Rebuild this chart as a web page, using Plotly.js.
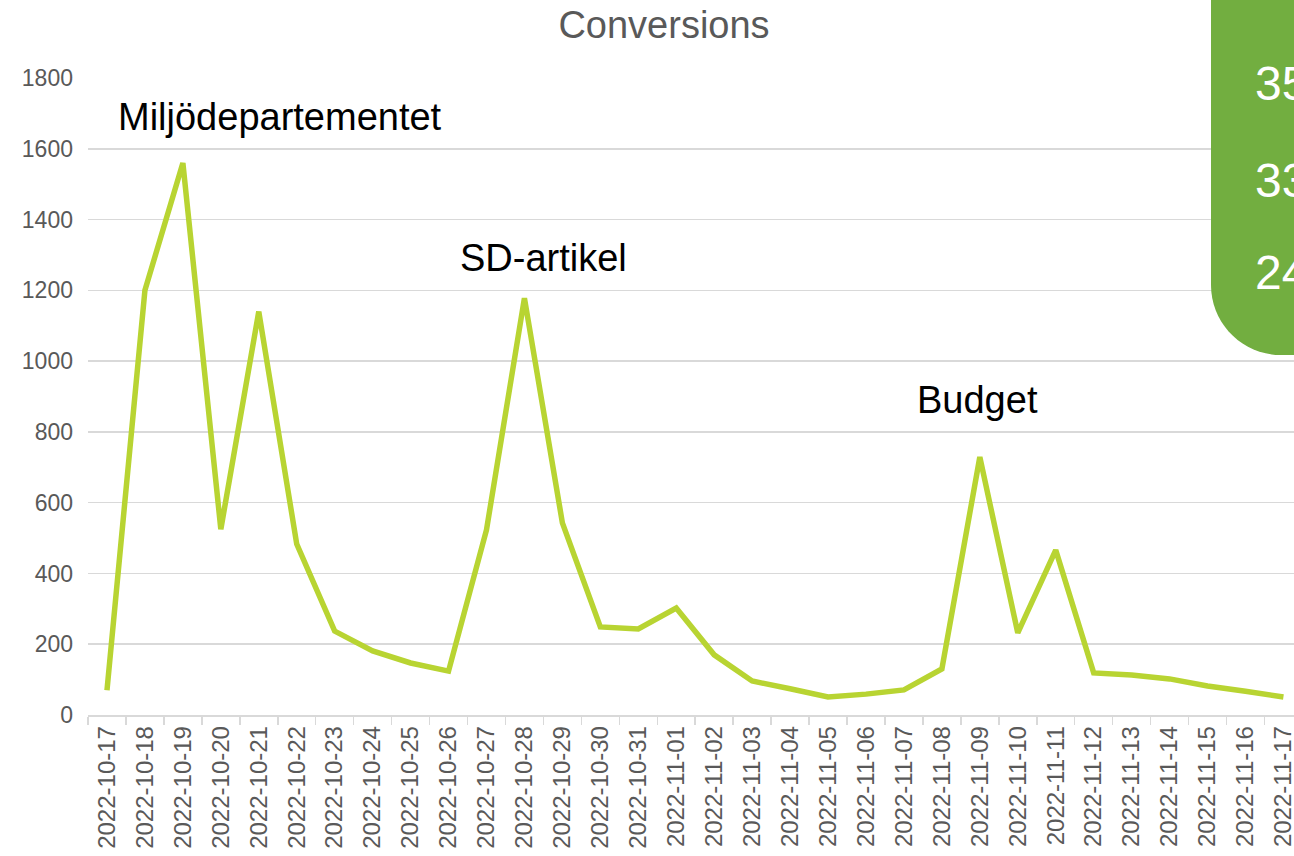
<!DOCTYPE html>
<html><head><meta charset="utf-8">
<script src="https://cdn.plot.ly/plotly-3.0.1.min.js"></script>
<style>html,body{margin:0;padding:0;background:#fff}</style>
</head><body>
<div id="chart" style="width:1294px;height:856px"></div>
<script>
const dates = ["2022-10-17","2022-10-18","2022-10-19","2022-10-20","2022-10-21","2022-10-22","2022-10-23","2022-10-24","2022-10-25","2022-10-26","2022-10-27","2022-10-28","2022-10-29","2022-10-30","2022-10-31","2022-11-01","2022-11-02","2022-11-03","2022-11-04","2022-11-05","2022-11-06","2022-11-07","2022-11-08","2022-11-09","2022-11-10","2022-11-11","2022-11-12","2022-11-13","2022-11-14","2022-11-15","2022-11-16","2022-11-17"];
const conversions = [70,1200,1560,525,1140,483,237,181,147,124,523,1178,543,249,243,302,170,96,74,51,59,71,130,729,232,466,119,113,102,82,67,51];
const yTicks = [0,200,400,600,800,1000,1200,1400,1600,1800];
const eventLabels = ["Miljödepartementet","SD-artikel","Budget"];
const eventX = [4.56,11.5,22.94];
const eventY = [1690,1290,890];
const boxNumbers = ["35","33","24"];

const W=1294,H=856,L=88,R=0,T=78,B=141;
const pw=W-L-R, ph=H-T-B;
const px=x=>(x-L)/pw, py=y=>(H-B-y)/ph;

const x0=px(1211), x1=px(1310), yt=py(-20), yb=py(355);
const rx=70/pw, ry=70/ph, k=0.5523;
const boxPath = `M ${x0} ${yt} L ${x1} ${yt} L ${x1} ${yb} L ${x0+rx} ${yb} C ${x0+rx*(1-k)} ${yb} ${x0} ${yb+ry*(1-k)} ${x0} ${yb+ry} Z`;

const annotations = eventLabels.map((t,i)=>({
  text:t, x:eventX[i], y:eventY[i], xref:'x', yref:'y', showarrow:false,
  font:{family:'Liberation Sans, Arial, sans-serif', size:38, color:'#000'}
}));
const numY=[84,180,272];
boxNumbers.forEach((t,i)=>annotations.push({
  text:t, x:px(1253), y:py(numY[i]), xref:'paper', yref:'paper', xanchor:'left', yanchor:'middle', showarrow:false,
  font:{family:'Liberation Sans, Arial, sans-serif', size:48, color:'#fff'}
}));

const trace = {
  x: dates, y: conversions, type:'scatter', mode:'lines',
  line:{color:'#B8D432', width:5.5}
};
const fam='Liberation Sans, Arial, sans-serif';
const layout = {
  width:W, height:H, margin:{l:L,r:R,t:T,b:B},
  paper_bgcolor:'#fff', plot_bgcolor:'#fff', showlegend:false,
  title:{text:'Conversions', x:664/W, xref:'container', xanchor:'center', y:1-25/H, yref:'container', yanchor:'middle',
    font:{family:fam, size:38, color:'#595959'}},
  xaxis:{type:'category', range:[-0.5, -0.5+pw/37.95], tickson:'boundaries', ticks:'outside', ticklen:8, tickcolor:'#d9d9d9', tickwidth:1.5,
    showgrid:false, showline:true, linecolor:'#d9d9d9', linewidth:1.5, tickangle:-90, tickfont:{family:fam, size:24, color:'#595959'}, fixedrange:true},
  yaxis:{range:[0,1800], tickvals:yTicks, ticktext:yTicks.map(String), showgrid:true, gridcolor:'#d9d9d9', gridwidth:1.5,
    zeroline:false, showline:false, ticks:'', ticklabelstandoff:14, tickfont:{family:fam, size:23, color:'#595959'}, fixedrange:true},
  shapes:[{type:'path', path:boxPath, xref:'paper', yref:'paper', fillcolor:'#72AE40', line:{width:0}, layer:'above'}],
  annotations: annotations
};
Plotly.newPlot('chart',[trace],layout,{displayModeBar:false,staticPlot:true});
</script>
</body></html>
